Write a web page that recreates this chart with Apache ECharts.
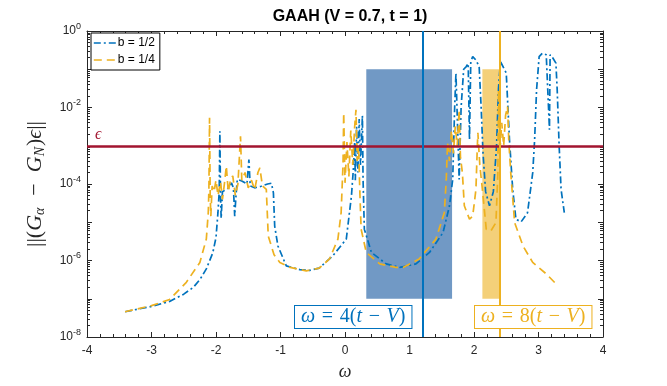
<!DOCTYPE html>
<html>
<head>
<meta charset="utf-8">
<script src="https://cdn.jsdelivr.net/npm/echarts@6/dist/echarts.min.js"></script>
<style>
  html, body { margin: 0; padding: 0; background: #fff; }
  #main { width: 667px; height: 386px; }
</style>
</head>
<body>
<div id="main"></div>
<script>
// b = 1/2 曲线 (omega, log10 值)
var halfX = [-3.41, -3.0, -2.72, -2.5, -2.35, -2.25, -2.15, -2.05, -2.0, -1.97, -1.95, -1.94, -1.93, -1.92, -1.9,
  -1.85, -1.8, -1.76, -1.73, -1.71, -1.69, -1.67, -1.6, -1.52, -1.49, -1.47, -1.4, -1.3, -1.2, -1.14, -1.11,
  -1.09, -1.04, -0.91, -0.7, -0.55, -0.4, -0.19, 0.02, 0.1, 0.13, 0.15, 0.16, 0.18, 0.2, 0.22, 0.24, 0.27,
  0.28, 0.3, 0.41, 0.64, 0.85, 1.1, 1.31, 1.52, 1.62, 1.67, 1.7, 1.72, 1.74, 1.77, 1.8, 1.84, 1.88, 1.91,
  1.93, 1.95, 1.98, 2.03, 2.08, 2.11, 2.14, 2.18, 2.24, 2.3, 2.35, 2.38, 2.41, 2.44, 2.5, 2.55, 2.6, 2.65,
  2.73, 2.83, 2.91, 2.94, 2.97, 3.01, 3.06, 3.12, 3.17, 3.18, 3.22, 3.27, 3.29, 3.32, 3.35, 3.4];
var halfLog = [-7.34, -7.2, -7.07, -6.88, -6.7, -6.5, -6.22, -5.8, -5.4, -4.75, -4.2, -2.62, -4.3, -4.9, -4.2,
  -4.15, -4.1, -3.97, -4.1, -4.84, -4.3, -3.88, -3.92, -4.0, -3.36, -4.05, -4.1, -4.06, -4.0, -3.98, -4.23,
  -5.1, -5.62, -6.14, -6.24, -6.26, -6.2, -5.88, -5.44, -4.31, -3.6, -2.9, -3.9, -2.5, -3.7, -2.3, -3.5, -2.21,
  -3.88, -5.18, -5.79, -6.09, -6.18, -6.09, -5.79, -5.27, -4.57, -3.88, -2.0, -1.1, -1.15, -3.88, -2.0, -1.0, -0.93, -0.85,
  -2.84, -0.8, -0.67, -0.76, -0.93, -1.97, -3.2, -4.2, -4.57, -4.2, -3.0, -1.5, -0.8, -0.76, -1.1, -2.84, -4.14, -4.92,
  -4.99, -4.75, -3.71, -2.84, -1.54, -0.67, -0.58, -0.62, -2.58, -0.62, -0.7, -0.84, -1.54, -3.0, -4.14, -4.75];

// b = 1/4 曲线
var quarterX = [-3.41, -3.0, -2.72, -2.46, -2.25, -2.15, -2.12, -2.11, -2.1, -2.09, -2.08, -2.06, -2.03, -2.0,
  -1.97, -1.93, -1.9, -1.87, -1.84, -1.81, -1.77, -1.74, -1.7, -1.66, -1.62, -1.6, -1.55, -1.5, -1.45, -1.4,
  -1.35, -1.32, -1.28, -1.22, -1.19, -1.1, -1.01, -0.85, -0.6, -0.4, -0.24, -0.11, -0.06, -0.03, -0.02, 0.0,
  0.03, 0.06, 0.09, 0.12, 0.15, 0.17, 0.19, 0.21, 0.23, 0.25, 0.33, 0.54, 0.79, 0.9, 1.15, 1.41, 1.54, 1.57,
  1.59, 1.62, 1.65, 1.68, 1.71, 1.74, 1.77, 1.79, 1.82, 1.85, 1.93, 1.98, 2.03, 2.05, 2.06, 2.09, 2.13, 2.19,
  2.26, 2.34, 2.37, 2.38, 2.4, 2.43, 2.46, 2.49, 2.52, 2.54, 2.57, 2.63, 2.76, 2.91, 3.12, 3.3];
var quarterLog = [-7.34, -7.18, -7.02, -6.57, -6.05, -5.44, -4.75, -4.14, -2.27, -4.3, -4.84, -4.05, -4.2, -3.9,
  -4.3, -3.95, -4.4, -4.0, -3.53, -4.2, -3.85, -3.79, -4.3, -4.0, -2.75, -3.9, -3.7, -4.1, -3.9, -4.15,
  -3.7, -3.58, -4.05, -4.14, -5.36, -5.85, -6.05, -6.18, -6.27, -6.2, -5.96, -5.44, -4.75, -3.45, -2.14, -3.97,
  -2.9, -3.8, -2.6, -3.5, -2.5, -2.06, -3.4, -3.0, -4.2, -5.18, -5.79, -6.09, -6.18, -6.18, -5.96, -5.44, -4.75, -3.88,
  -2.92, -3.4, -2.6, -3.2, -2.49, -3.0, -2.06, -3.3, -3.71, -4.57, -4.92, -4.84, -4.14, -3.1, -2.66, -3.5, -4.14, -5.18,
  -5.23, -5.01, -3.71, -1.54, -3.2, -2.4, -3.0, -2.2, -1.97, -2.9, -3.71, -5.01, -5.62, -6.05, -6.35, -6.66];

var epsValue = 1e-3;
var vLines = [1.2, 2.4];          // 4(t-V), 8(t-V)
var blueBand = [0.33, 1.66, 1e-7, 1e-1];
var yellowBand = [2.13, 2.39, 1e-7, 1e-1];

var C_BLUE = '#0072BD', C_YEL = '#EDB120', C_RED = '#A2142F', C_AX = '#262626';
var SERIF = '"Liberation Serif", "DejaVu Serif", serif';
var SANS = '"Liberation Sans", Arial, sans-serif';
var SP = '\u2002';   // 纵轴标题用
var TS = '\u2004';   // 文本框用

function pairs(xs, ls) {
  var out = [];
  for (var i = 0; i < xs.length; i++) out.push([xs[i], Math.pow(10, ls[i])]);
  return out;
}

var myChart = echarts.init(document.getElementById('main'));

var xCommon = {
  type: 'value', min: -4, max: 4, interval: 1,
  axisLine: { onZero: false, lineStyle: { color: C_AX, width: 1 } },
  axisTick: { inside: true, length: 5, lineStyle: { color: C_AX } },
  minorTick: { show: true, splitNumber: 5, length: 3, lineStyle: { color: C_AX } },
  splitLine: { show: false }
};
var yCommon = {
  type: 'log', logBase: 10, min: 1e-8, max: 1, interval: 1,
  axisLine: { show: true, onZero: false, lineStyle: { color: C_AX, width: 1 } },
  axisTick: { inside: true, length: 5, lineStyle: { color: C_AX } },
  minorTick: { show: true, splitNumber: 9, length: 3, lineStyle: { color: C_AX } },
  splitLine: { show: false }
};

myChart.setOption({
  animation: false,
  title: {
    text: 'GAAH (V = 0.7, t = 1)',
    left: 345, top: 4, textAlign: 'center',
    textStyle: { fontFamily: SANS, fontWeight: 'bold', fontSize: 16, color: '#000' }
  },
  legend: {
    data: ['b = 1/2', 'b = 1/4'],
    orient: 'vertical', left: 91, top: 33,
    backgroundColor: '#fff', borderColor: '#000', borderWidth: 1,
    padding: [4, 5, 4, 2], itemGap: 5, itemWidth: 22, itemHeight: 12,
    itemStyle: { opacity: 0 },
    lineStyle: { width: 1.6 },
    textStyle: { fontFamily: SANS, fontSize: 12, color: '#000', padding: [0, 0, 0, -3] }
  },
  grid: { left: 87, right: 64, top: 31, bottom: 48 },
  xAxis: [
    Object.assign({}, xCommon, {
      position: 'bottom',
      name: 'ω', nameLocation: 'middle', nameGap: 26,
      nameTextStyle: { fontFamily: SERIF, fontStyle: 'italic', fontSize: 18, color: C_AX },
      axisLabel: { fontFamily: SANS, fontSize: 12, color: C_AX, margin: 8 }
    }),
    Object.assign({}, xCommon, { position: 'top', axisLabel: { show: false } })
  ],
  yAxis: [
    Object.assign({}, yCommon, {
      position: 'left',
      name: '||({i|G}{s|α}' + SP + '−' + SP + '{i|G}{s|N}){i|ϵ}||', nameLocation: 'middle', nameGap: 40, nameRotate: 90,
      nameTextStyle: {
        fontFamily: SERIF, fontSize: 22, color: C_AX,
        rich: {
          i: { fontFamily: SERIF, fontStyle: 'italic', fontSize: 22, color: C_AX },
          s: { fontFamily: SERIF, fontStyle: 'italic', fontSize: 14, color: C_AX, padding: [10, 1, 0, 0] }
        }
      },
      axisLabel: {
        margin: 6, color: C_AX,
        formatter: function (v) {
          var e = Math.round(Math.log10(v));
          if (e % 2 !== 0) return '';
          return '{b|10}{p|' + e + '}';
        },
        rich: {
          b: { fontFamily: SANS, fontSize: 12, color: C_AX },
          p: { fontFamily: SANS, fontSize: 9, color: C_AX, padding: [0, 0, 9, 0] }
        }
      }
    }),
    Object.assign({}, yCommon, { position: 'right', axisLabel: { show: false } })
  ],
  series: [
    {
      name: 'b = 1/2', type: 'line', data: pairs(halfX, halfLog),
      symbol: 'none', z: 2,
      lineStyle: { color: C_BLUE, width: 1.7, type: [7, 3, 2, 3] },
      itemStyle: { color: C_BLUE }
    },
    {
      name: 'b = 1/4', type: 'line', data: pairs(quarterX, quarterLog),
      symbol: 'none', z: 2,
      lineStyle: { color: C_YEL, width: 1.7, type: [8, 5] },
      itemStyle: { color: C_YEL }
    },
    {
      // epsilon 线
      type: 'line', data: [], z: 3,
      markLine: {
        silent: true, symbol: 'none', animation: false,
        lineStyle: { color: C_RED, width: 2.5, type: 'solid' },
        label: {
          position: 'insideStartTop', formatter: 'ϵ', distance: [8, 3],
          fontFamily: SERIF, fontStyle: 'italic', fontSize: 16, color: C_RED
        },
        data: [[{ coord: [-4, epsValue] }, { coord: [4, epsValue] }]]
      }
    },
    {
      // 阴影区
      type: 'line', data: [], z: 4,
      markArea: {
        silent: true,
        data: [
          [{ xAxis: blueBand[0], yAxis: blueBand[3], itemStyle: { color: 'rgba(10,80,155,0.58)' } },
           { xAxis: blueBand[1], yAxis: blueBand[2] }],
          [{ xAxis: yellowBand[0], yAxis: yellowBand[3], itemStyle: { color: 'rgba(237,177,32,0.6)' } },
           { xAxis: yellowBand[1], yAxis: yellowBand[2] }]
        ]
      }
    },
    {
      // 竖线
      type: 'line', data: [], z: 5,
      markLine: {
        silent: true, symbol: 'none', animation: false, label: { show: false },
        data: [
          { xAxis: vLines[0], lineStyle: { color: C_BLUE, width: 2, type: 'solid' } },
          { xAxis: vLines[1], lineStyle: { color: C_YEL, width: 2, type: 'solid' } }
        ]
      }
    }
  ],
  graphic: [
    {
      type: 'text', left: 294, top: 305, z: 100,
      style: {
        text: '{i|ω}' + TS + '=' + TS + '4({i|t}' + TS + '−' + TS + '{i|V})',
        font: '20px ' + SERIF, fill: C_BLUE,
        backgroundColor: '#fff', borderColor: C_BLUE, borderWidth: 1,
        padding: [1, 6, 1, 6],
        rich: { i: { fontStyle: 'italic', fontFamily: SERIF, fontSize: 20, fill: C_BLUE, color: C_BLUE } }
      }
    },
    {
      type: 'text', left: 474, top: 305, z: 100,
      style: {
        text: '{i|ω}' + TS + '=' + TS + '8({i|t}' + TS + '−' + TS + '{i|V})',
        font: '20px ' + SERIF, fill: C_YEL,
        backgroundColor: '#fff', borderColor: C_YEL, borderWidth: 1,
        padding: [1, 6, 1, 6],
        rich: { i: { fontStyle: 'italic', fontFamily: SERIF, fontSize: 20, fill: C_YEL, color: C_YEL } }
      }
    }
  ]
});
</script>
</body>
</html>
